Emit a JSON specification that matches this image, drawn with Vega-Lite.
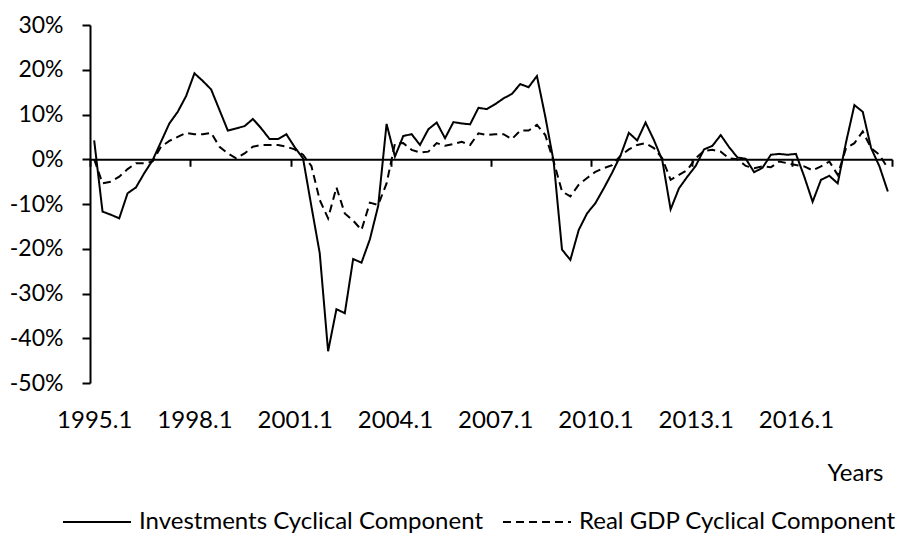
{
  "$schema": "https://vega.github.io/schema/vega-lite/v6.json",
  "width": 802,
  "height": 358,
  "autosize": {"type": "none"},
  "padding": {"left": 90, "top": 25, "right": 10, "bottom": 160},
  "background": "white",
  "config": {"view": {"stroke": null}},
  "data": {"values": [
    {"i":0,"inv":0.042,"gdp":0.000},{"i":1,"inv":-0.117,"gdp":-0.054},{"i":2,"inv":-0.124,"gdp":-0.050},{"i":3,"inv":-0.132,"gdp":-0.039},
    {"i":4,"inv":-0.076,"gdp":-0.022},{"i":5,"inv":-0.063,"gdp":-0.009},{"i":6,"inv":-0.031,"gdp":-0.009},{"i":7,"inv":-0.002,"gdp":-0.005},
    {"i":8,"inv":0.039,"gdp":0.028},{"i":9,"inv":0.080,"gdp":0.041},{"i":10,"inv":0.106,"gdp":0.050},{"i":11,"inv":0.141,"gdp":0.059},
    {"i":12,"inv":0.192,"gdp":0.056},{"i":13,"inv":0.175,"gdp":0.056},{"i":14,"inv":0.156,"gdp":0.059},{"i":15,"inv":0.110,"gdp":0.028},
    {"i":16,"inv":0.064,"gdp":0.013},{"i":17,"inv":0.069,"gdp":0.002},{"i":18,"inv":0.074,"gdp":0.013},{"i":19,"inv":0.090,"gdp":0.028},
    {"i":20,"inv":0.069,"gdp":0.032},{"i":21,"inv":0.045,"gdp":0.032},{"i":22,"inv":0.045,"gdp":0.032},{"i":23,"inv":0.056,"gdp":0.028},
    {"i":24,"inv":0.027,"gdp":0.022},{"i":25,"inv":0.002,"gdp":0.010},{"i":26,"inv":-0.105,"gdp":-0.015},{"i":27,"inv":-0.210,"gdp":-0.091},
    {"i":28,"inv":-0.429,"gdp":-0.132},{"i":29,"inv":-0.335,"gdp":-0.063},{"i":30,"inv":-0.344,"gdp":-0.121},{"i":31,"inv":-0.223,"gdp":-0.137},
    {"i":32,"inv":-0.231,"gdp":-0.158},{"i":33,"inv":-0.179,"gdp":-0.097},{"i":34,"inv":-0.104,"gdp":-0.102},{"i":35,"inv":0.079,"gdp":-0.054},
    {"i":36,"inv":0.006,"gdp":0.035},{"i":37,"inv":0.052,"gdp":0.036},{"i":38,"inv":0.056,"gdp":0.021},{"i":39,"inv":0.032,"gdp":0.015},
    {"i":40,"inv":0.067,"gdp":0.017},{"i":41,"inv":0.082,"gdp":0.036},{"i":42,"inv":0.047,"gdp":0.030},{"i":43,"inv":0.083,"gdp":0.034},
    {"i":44,"inv":0.080,"gdp":0.039},{"i":45,"inv":0.078,"gdp":0.032},{"i":46,"inv":0.115,"gdp":0.058},{"i":47,"inv":0.112,"gdp":0.054},
    {"i":48,"inv":0.123,"gdp":0.056},{"i":49,"inv":0.136,"gdp":0.056},{"i":50,"inv":0.146,"gdp":0.045},{"i":51,"inv":0.168,"gdp":0.064},
    {"i":52,"inv":0.161,"gdp":0.064},{"i":53,"inv":0.186,"gdp":0.077},{"i":54,"inv":0.095,"gdp":0.054},{"i":55,"inv":-0.005,"gdp":-0.005},
    {"i":56,"inv":-0.202,"gdp":-0.072},{"i":57,"inv":-0.225,"gdp":-0.083},{"i":58,"inv":-0.158,"gdp":-0.057},{"i":59,"inv":-0.121,"gdp":-0.042},
    {"i":60,"inv":-0.098,"gdp":-0.028},{"i":61,"inv":-0.065,"gdp":-0.020},{"i":62,"inv":-0.030,"gdp":-0.013},{"i":63,"inv":0.008,"gdp":0.008},
    {"i":64,"inv":0.059,"gdp":0.022},{"i":65,"inv":0.042,"gdp":0.032},{"i":66,"inv":0.082,"gdp":0.036},{"i":67,"inv":0.043,"gdp":0.025},
    {"i":68,"inv":-0.002,"gdp":0.002},{"i":69,"inv":-0.112,"gdp":-0.046},{"i":70,"inv":-0.065,"gdp":-0.035},{"i":71,"inv":-0.039,"gdp":-0.024},
    {"i":72,"inv":-0.015,"gdp":0.002},{"i":73,"inv":0.022,"gdp":0.019},{"i":74,"inv":0.030,"gdp":0.021},{"i":75,"inv":0.054,"gdp":0.017},
    {"i":76,"inv":0.027,"gdp":0.002},{"i":77,"inv":0.004,"gdp":0.000},{"i":78,"inv":0.001,"gdp":-0.015},{"i":79,"inv":-0.029,"gdp":-0.020},
    {"i":80,"inv":-0.019,"gdp":-0.016},{"i":81,"inv":0.010,"gdp":-0.018},{"i":82,"inv":0.012,"gdp":-0.005},{"i":83,"inv":0.010,"gdp":-0.009},
    {"i":84,"inv":0.012,"gdp":-0.013},{"i":85,"inv":-0.039,"gdp":-0.016},{"i":86,"inv":-0.095,"gdp":-0.025},{"i":87,"inv":-0.046,"gdp":-0.016},
    {"i":88,"inv":-0.037,"gdp":-0.005},{"i":89,"inv":-0.054,"gdp":-0.035},{"i":90,"inv":0.038,"gdp":0.025},{"i":91,"inv":0.121,"gdp":0.036},
    {"i":92,"inv":0.106,"gdp":0.062},{"i":93,"inv":0.025,"gdp":0.025},{"i":94,"inv":-0.016,"gdp":0.010},{"i":95,"inv":-0.072,"gdp":-0.020}
  ]},
  "transform": [
    {"fold": ["inv", "gdp"], "as": ["series", "value"]}
  ],
  "mark": {"type": "line", "color": "black", "strokeWidth": 2},
  "encoding": {
    "x": {
      "field": "i", "type": "quantitative",
      "scale": {"domain": [-0.5, 95.5], "nice": false, "zero": false},
      "axis": {
        "orient": "bottom",
        "offset": -223.75,
        "values": [-0.5, 11.5, 23.5, 35.5, 47.5, 59.5, 71.5, 83.5, 95.5],
        "labelExpr": "datum.value > 90 ? '' : (1995 + (datum.value + 0.5) / 4) + '.1'",
        "labelOffset": 4.2,
        "labelPadding": 242,
        "labelFlush": false,
        "labelBound": false,
        "labelOverlap": false,
        "labelFont": "Lato",
        "labelFontSize": 24,
        "labelColor": "black",
        "grid": false,
        "domain": true,
        "domainColor": "black",
        "domainWidth": 2,
        "ticks": true,
        "tickColor": "black",
        "tickWidth": 2,
        "tickSize": 7,
        "title": "Years",
        "titleFont": "Lato",
        "titleFontSize": 24,
        "titleFontWeight": "normal",
        "titleColor": "black",
        "titleX": 793,
        "titleY": 314.7,
        "titleAlign": "right",
        "titleBaseline": "middle"
      }
    },
    "y": {
      "field": "value", "type": "quantitative",
      "scale": {"domain": [-0.5, 0.3], "nice": false, "zero": false},
      "axis": {
        "values": [-0.5, -0.4, -0.3, -0.2, -0.1, 0, 0.1, 0.2, 0.3],
        "labelExpr": "(datum.value < -0.001 ? '-' : '') + format(abs(datum.value), '.0%')",
        "labelFont": "Lato",
        "labelFontSize": 23,
        "labelColor": "black",
        "labelPadding": 19,
        "grid": false,
        "domain": true,
        "domainColor": "black",
        "domainWidth": 2,
        "ticks": true,
        "tickColor": "black",
        "tickWidth": 2,
        "tickSize": 8,
        "title": null
      }
    },
    "strokeDash": {
      "field": "series", "type": "nominal",
      "scale": {"domain": ["inv", "gdp"], "range": [[1, 0], [8, 5]]},
      "legend": {
        "orient": "none",
        "direction": "horizontal",
        "legendX": -28,
        "legendY": 462,
        "title": null,
        "labelExpr": "datum.value == 'inv' ? 'Investments Cyclical Component' : 'Real GDP Cyclical Component'",
        "labelFont": "Lato",
        "labelFontSize": 24,
        "labelColor": "black",
        "labelLimit": 600,
        "labelOffset": 7,
        "columnPadding": 15,
        "symbolType": "stroke",
        "symbolSize": 4624,
        "symbolStrokeColor": "black",
        "symbolStrokeWidth": 2
      }
    }
  }
}
